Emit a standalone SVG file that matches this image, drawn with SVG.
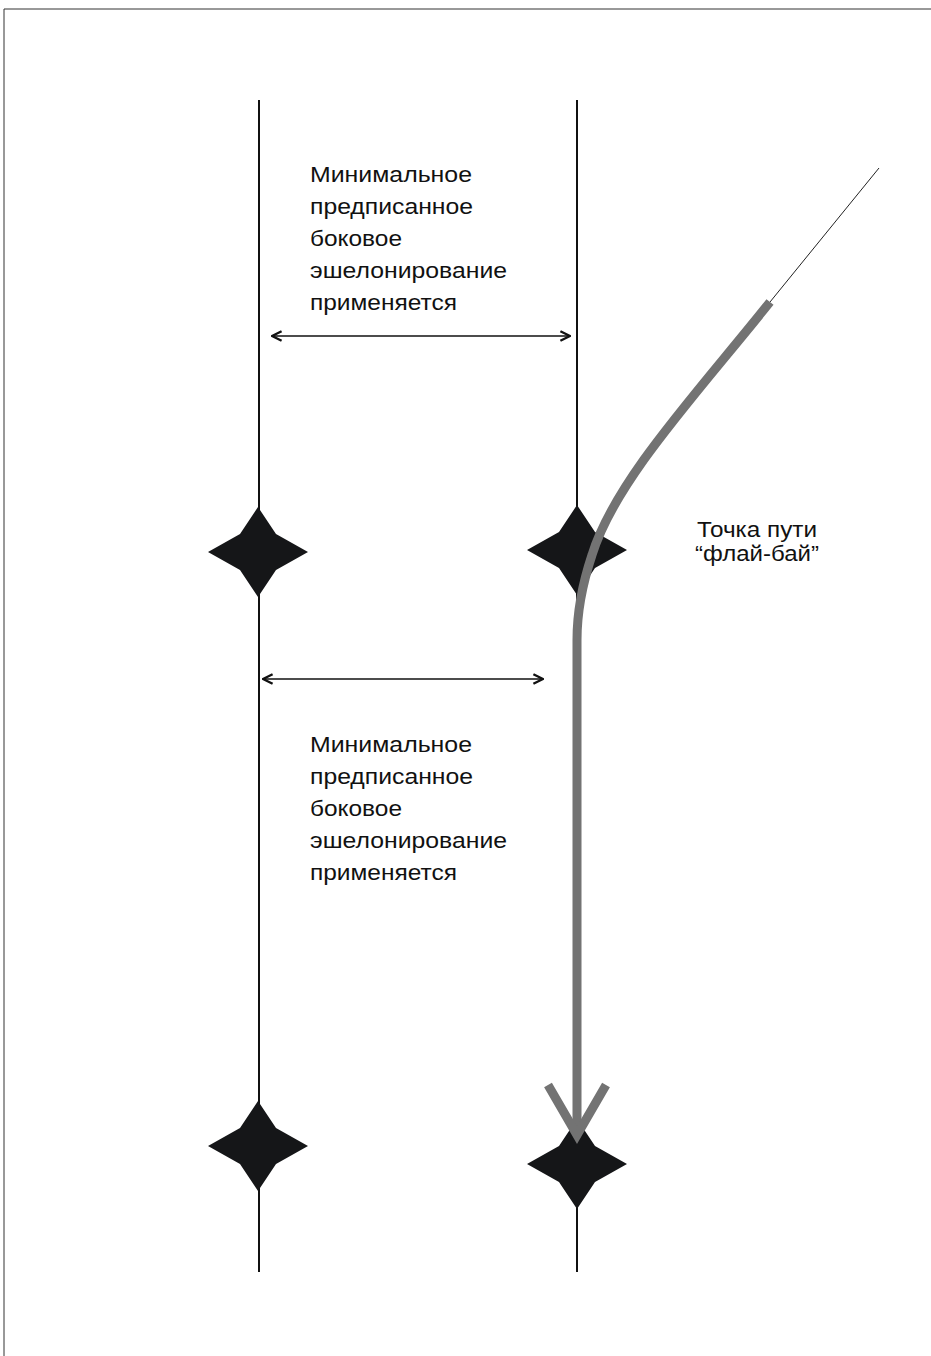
<svg xmlns="http://www.w3.org/2000/svg" width="931" height="1356" viewBox="0 0 931 1356">
<defs>
<style>
.lane{stroke:#111;stroke-width:2;fill:none}
.dim{stroke:#111;stroke-width:1.6;fill:none}
.txt{font-family:"Liberation Sans",Arial,sans-serif;font-size:22px;fill:#111}
.star{fill:#151618}
.track{stroke:#737373;stroke-width:9;fill:none}
</style>
<marker id="ah" viewBox="0 0 10 10" refX="9" refY="5" markerWidth="12" markerHeight="12" markerUnits="userSpaceOnUse" orient="auto-start-reverse">
<path d="M1,1 L9,5 L1,9" fill="none" stroke="#111" stroke-width="2"/>
</marker>
<path id="st" d="M0,-45 L18,-18 L50,0 L18,18 L0,45 L-18,18 L-50,0 L-18,-18 Z"/>
</defs>
<rect width="931" height="1356" fill="#fff"/>
<path d="M4,1356 L4,9 L931,9" fill="none" stroke="#333" stroke-width="1"/>
<g id="connectors">
<line class="lane" x1="259" y1="100" x2="259" y2="1272"/>
<line class="lane" x1="577" y1="100" x2="577" y2="1272"/>
<line class="dim" x1="272" y1="336" x2="570" y2="336" marker-start="url(#ah)" marker-end="url(#ah)"/>
<line class="dim" x1="263" y1="679" x2="543" y2="679" marker-start="url(#ah)" marker-end="url(#ah)"/>
</g>
<g id="wp-left-1"><use href="#st" class="star" x="258" y="552"/></g>
<g id="wp-right-1"><use href="#st" class="star" x="577" y="550"/></g>
<g id="wp-left-2"><use href="#st" class="star" x="258" y="1146"/></g>
<g id="wp-right-2"><use href="#st" class="star" x="577" y="1164"/></g>
<g id="track">
<line x1="770" y1="302" x2="879" y2="168" stroke="#222" stroke-width="1"/>
<path class="track" d="M770,302 C700,390 615,480 592,555 Q577,600 577,640 L577,1130"/>
<path class="track" d="M548,1085 L577,1135 L606,1085"/>
</g>
<g id="label-top">
<text class="txt" x="310" y="182" textLength="162" lengthAdjust="spacingAndGlyphs">Минимальное</text>
<text class="txt" x="310" y="214" textLength="163" lengthAdjust="spacingAndGlyphs">предписанное</text>
<text class="txt" x="310" y="246" textLength="92" lengthAdjust="spacingAndGlyphs">боковое</text>
<text class="txt" x="310" y="278" textLength="197" lengthAdjust="spacingAndGlyphs">эшелонирование</text>
<text class="txt" x="310" y="310" textLength="147" lengthAdjust="spacingAndGlyphs">применяется</text>
</g>
<g id="label-bottom">
<text class="txt" x="310" y="752" textLength="162" lengthAdjust="spacingAndGlyphs">Минимальное</text>
<text class="txt" x="310" y="784" textLength="163" lengthAdjust="spacingAndGlyphs">предписанное</text>
<text class="txt" x="310" y="816" textLength="92" lengthAdjust="spacingAndGlyphs">боковое</text>
<text class="txt" x="310" y="848" textLength="197" lengthAdjust="spacingAndGlyphs">эшелонирование</text>
<text class="txt" x="310" y="880" textLength="147" lengthAdjust="spacingAndGlyphs">применяется</text>
</g>
<g id="label-flyby">
<text class="txt" x="697" y="537" textLength="120" lengthAdjust="spacingAndGlyphs">Точка пути</text>
<text class="txt" x="695" y="561" textLength="124" lengthAdjust="spacingAndGlyphs">“флай-бай”</text>
</g>
</svg>
